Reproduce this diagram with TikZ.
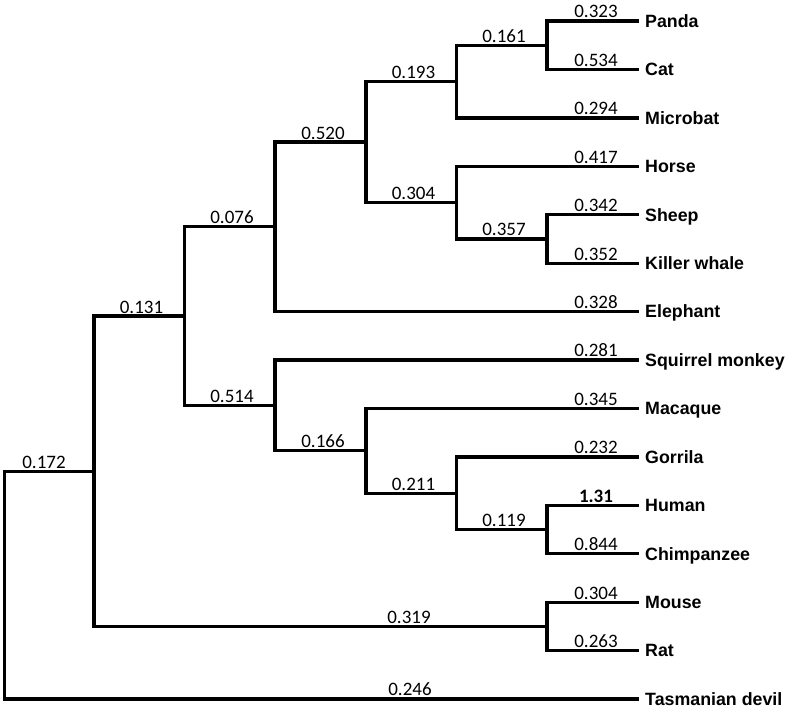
\documentclass[tikz,border=0pt]{standalone}
\usepackage{fontspec}
\setmainfont{Carlito}
\newfontfamily\taxonfont{Liberation Sans}
\usetikzlibrary{calc}

\tikzset{
  branch/.style={line width=3.3pt, line join=miter},
  blen/.style={anchor=south, inner sep=0pt, yshift=2.7pt, font=\fontsize{19}{19}\selectfont},
  taxon/.style={anchor=base west, inner sep=0pt, xshift=6pt, yshift=-6.3pt,
    font=\taxonfont\bfseries\fontsize{17.8}{18}\selectfont},
}

\begin{document}
\begin{tikzpicture}[x=1pt, y=-1pt]
	\useasboundingbox (0,0) rectangle (788,709);
	% leaves
	\foreach \leaf/\txt [count=\i from 0] in {panda/Panda, cat/Cat, microbat/Microbat,
		horse/Horse, sheep/Sheep, whale/Killer whale, elephant/Elephant,
		squirrel/Squirrel monkey, macaque/Macaque, gorilla/Gorrila, human/Human,
		chimp/Chimpanzee, mouse/Mouse, rat/Rat, devil/Tasmanian devil}{
		\coordinate (\leaf) at (639, 21+48.43*\i);
		\node[taxon] (\leaf-name) at (\leaf) {\txt};
	}
	% inner nodes
	\coordinate (pancat)     at (547, 45.2);
	\coordinate (pcbat)      at (456.5, 81.5);
	\coordinate (sheepwhale) at (547, 238.9);
	\coordinate (horseclade) at (456.5, 202.6);
	\coordinate (cetfer)     at (366, 142.05);
	\coordinate (laura)      at (275, 226.8);
	\coordinate (homo)       at (547, 529.5);
	\coordinate (apes)       at (456.5, 493.2);
	\coordinate (oldworld)   at (366, 450.8);
	\coordinate (primate)    at (275, 405.4);
	\coordinate (boreo)      at (184.5, 316.1);
	\coordinate (murid)      at (547, 626.4);
	\coordinate (hub)        at (94, 471.25);
	\coordinate (root)       at (4.5, 585);
	% branches
	\draw[branch] (panda) -| (pancat) |- (cat);
	\draw[branch] (pancat) -| (pcbat) |- (microbat);
	\draw[branch] (sheep) -| (sheepwhale) |- (whale);
	\draw[branch] (horse) -| (horseclade) |- (sheepwhale);
	\draw[branch] (pcbat) -| (cetfer) |- (horseclade);
	\draw[branch] (cetfer) -| (laura) |- (elephant);
	\draw[branch] (human) -| (homo) |- (chimp);
	\draw[branch] (gorilla) -| (apes) |- (homo);
	\draw[branch] (macaque) -| (oldworld) |- (apes);
	\draw[branch] (squirrel) -| (primate) |- (oldworld);
	\draw[branch] (laura) -| (boreo) |- (primate);
	\draw[branch] (mouse) -| (murid) |- (rat);
	\draw[branch] (boreo) -| (hub) |- (murid);
	\draw[branch] (hub) -| (root) |- (devil);
	% branch lengths
	\foreach \tip/\len in {panda/0.323, cat/0.534, microbat/0.294, horse/0.417,
		sheep/0.342, whale/0.352, elephant/0.328, squirrel/0.281, macaque/0.345,
		gorilla/0.232, human/{\textbf{1.31}}, chimp/0.844, mouse/0.304, rat/0.263,
		pancat/0.161, pcbat/0.193, horseclade/0.304, sheepwhale/0.357, cetfer/0.520,
		laura/0.076, primate/0.514, oldworld/0.166, apes/0.211, homo/0.119,
		boreo/0.131}{
		\node[blen] (len-\tip) at ([xshift=-43pt]\tip) {\len};
	}
	\node[blen] (len-hub) at ([xshift=-50pt]hub) {0.172};
	\node[blen] (len-murid) at ([xshift=-138pt]murid) {0.319};
	\node[blen] (len-devil) at ([xshift=-229pt]devil) {0.246};
\end{tikzpicture}
\end{document}
